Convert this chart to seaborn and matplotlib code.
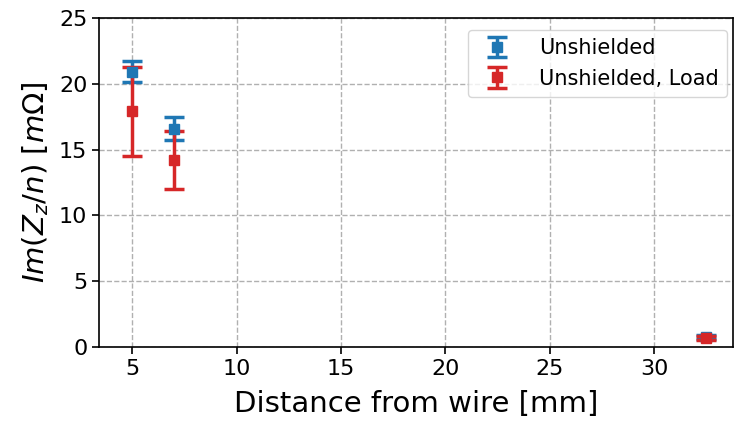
import matplotlib
matplotlib.use("Agg")
import matplotlib.pyplot as plt
import seaborn as sns

# Measured imaginary impedance vs. distance from wire
distance = [5, 7, 32.5]
unshielded = [20.9, 16.6, 0.8]
unshielded_err = [0.8, 0.85, 0.15]
unshielded_load = [17.9, 14.2, 0.7]
unshielded_load_err = [3.4, 2.2, 0.15]

sns.set_theme(style="ticks")
plt.rcParams["font.family"] = ["DejaVu Sans"]
plt.rcParams["text.color"] = "black"
plt.rcParams["axes.labelcolor"] = "black"
plt.rcParams["xtick.color"] = "black"
plt.rcParams["ytick.color"] = "black"

fig = plt.figure(figsize=(7.34, 4.25), dpi=100)
ax = fig.add_axes([0.135, 0.183, 0.863, 0.775])

common = dict(fmt="s", markersize=7, capsize=7.5, elinewidth=2.5, capthick=2.5, zorder=3)
ax.errorbar(distance, unshielded, yerr=unshielded_err, color="tab:blue",
            label="Unshielded", **common)
ax.errorbar(distance, unshielded_load, yerr=unshielded_load_err, color="tab:red",
            label="Unshielded, Load", **common)

ax.set_xlim(3.42, 33.75)
ax.set_ylim(0, 25)
ax.set_xticks([5, 10, 15, 20, 25, 30])
ax.set_yticks([0, 5, 10, 15, 20, 25])
ax.grid(True, linestyle="--", color="#b0b0b0", linewidth=1)
ax.tick_params(labelsize=16, length=5, width=1.2, color="black")
for s in ax.spines.values():
    s.set_color("black")
    s.set_linewidth(1.2)

ax.set_xlabel("Distance from wire [mm]", fontsize=21, labelpad=8)
ax.set_ylabel(r"$Im(Z_z/n)$ [$m\Omega$]", fontsize=21, labelpad=6)
ax.legend(loc="upper right", bbox_to_anchor=(0.991, 0.963), borderaxespad=0,
          fontsize=15, frameon=True, handletextpad=1.0)

fig.savefig("out.png", dpi=100)
